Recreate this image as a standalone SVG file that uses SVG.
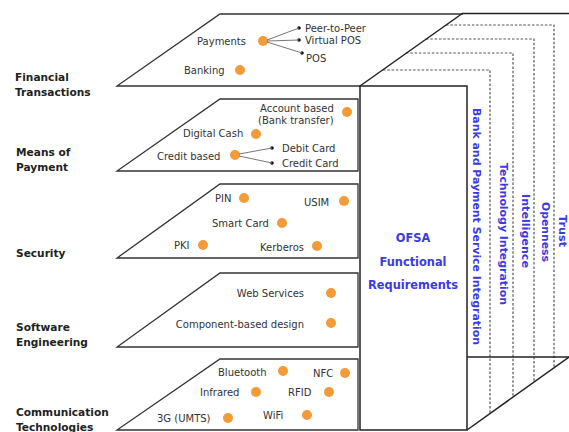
<svg xmlns="http://www.w3.org/2000/svg" width="569" height="432" viewBox="0 0 569 432">
<style>
.layer{fill:#fff;stroke:#333;stroke-width:1.3;stroke-linejoin:miter}
.t{font-family:"DejaVu Sans",Verdana,sans-serif;font-size:10px;fill:#333}
.lbl{font-family:"DejaVu Sans",Verdana,sans-serif;font-size:10.6px;font-weight:bold;fill:#222}
.blue{font-family:"DejaVu Sans",Verdana,sans-serif;font-weight:bold;fill:#3b3be0}
.dot{fill:#f29b38}
.bd{fill:#111}
.edge{fill:none;stroke:#222;stroke-width:1.5}
.dash{fill:none;stroke:#555;stroke-width:1.2;stroke-dasharray:2.5 1.8}
.con{fill:none;stroke:#777;stroke-width:1}
</style>
<rect width="569" height="432" fill="#fff"/>

<g id="labels">
<text class="lbl" x="15" y="81">Financial</text>
<text class="lbl" x="15" y="96">Transactions</text>
<text class="lbl" x="16" y="156">Means of</text>
<text class="lbl" x="16" y="171">Payment</text>
<text class="lbl" x="16" y="257">Security</text>
<text class="lbl" x="16" y="331">Software</text>
<text class="lbl" x="16" y="346">Engineering</text>
<text class="lbl" x="16" y="416">Communication</text>
<text class="lbl" x="16" y="431">Technologies</text>
</g>

<g id="layer-financial">
<path class="layer" d="M463,14 H220 L117,86 H360"/>
<text class="t" x="197" y="45">Payments</text>
<circle class="dot" cx="263" cy="41" r="5"/>
<text class="t" x="184" y="74">Banking</text>
<circle class="dot" cx="240" cy="70" r="5"/>
<circle class="bd" cx="299" cy="28" r="1.8"/>
<circle class="bd" cx="299" cy="40" r="1.8"/>
<circle class="bd" cx="302" cy="53" r="1.8"/>
<text class="t" x="305" y="32">Peer-to-Peer</text>
<text class="t" x="305" y="44">Virtual POS</text>
<text class="t" x="306" y="62">POS</text>
</g>

<g id="cube-back">
<path class="dash" d="M383,70 H490 V413.5"/>
<path class="dash" d="M406,53 H513 V397"/>
<path class="dash" d="M426,39 H534 V382"/>
<path class="dash" d="M446,25 H554 V368"/>
<path class="edge" d="M463,13.5 H569"/>
<path class="edge" d="M360,86 L463,13"/>
<path class="edge" d="M467,357 H569"/>
<path class="edge" d="M467,430 L569,357"/>
<text class="blue" font-size="11" transform="translate(473,108) rotate(90)" textLength="237" lengthAdjust="spacingAndGlyphs">Bank and Payment Service Integration</text>
<text class="blue" font-size="11" transform="translate(500,163) rotate(90)" textLength="142" lengthAdjust="spacingAndGlyphs">Technology Integration</text>
<text class="blue" font-size="11" transform="translate(522,194) rotate(90)" textLength="74" lengthAdjust="spacingAndGlyphs">Intelligence</text>
<text class="blue" font-size="11" transform="translate(542,202) rotate(90)" textLength="60" lengthAdjust="spacingAndGlyphs">Openness</text>
<text class="blue" font-size="11" transform="translate(559,215) rotate(90)" textLength="32" lengthAdjust="spacingAndGlyphs">Trust</text>
</g>

<g id="layer-payment">
<polygon class="layer" points="220,99 358,99 358,171 117,171"/>
<text class="t" x="260" y="112">Account based</text>
<text class="t" x="258" y="124">(Bank transfer)</text>
<circle class="dot" cx="347" cy="112" r="5"/>
<text class="t" x="183" y="137">Digital Cash</text>
<circle class="dot" cx="256" cy="134" r="5"/>
<text class="t" x="157" y="160">Credit based</text>
<circle class="dot" cx="235" cy="155" r="5"/>
<circle class="bd" cx="272" cy="148" r="1.8"/>
<circle class="bd" cx="272" cy="163" r="1.8"/>
<text class="t" x="282" y="152">Debit Card</text>
<text class="t" x="282" y="167">Credit Card</text>
</g>

<g id="layer-security">
<polygon class="layer" points="220,184 358,184 358,258 117,258"/>
<text class="t" x="215" y="202">PIN</text>
<circle class="dot" cx="244" cy="198" r="5"/>
<text class="t" x="304" y="206">USIM</text>
<circle class="dot" cx="344" cy="201" r="5"/>
<text class="t" x="212" y="227">Smart Card</text>
<circle class="dot" cx="282" cy="223" r="5"/>
<text class="t" x="174" y="249">PKI</text>
<circle class="dot" cx="203" cy="245" r="5"/>
<text class="t" x="260" y="251">Kerberos</text>
<circle class="dot" cx="317" cy="246" r="5"/>
</g>

<g id="layer-software">
<polygon class="layer" points="220,273 358,273 358,347 117,347"/>
<text class="t" x="304" y="297" text-anchor="end">Web Services</text>
<circle class="dot" cx="331" cy="293" r="5"/>
<text class="t" x="304" y="328" text-anchor="end">Component-based design</text>
<circle class="dot" cx="331" cy="323" r="5"/>
</g>

<g id="layer-communication">
<polygon class="layer" points="220,359 358,359 358,430 117,430"/>
<text class="t" x="218" y="376">Bluetooth</text>
<circle class="dot" cx="283" cy="371" r="5"/>
<text class="t" x="313" y="377">NFC</text>
<circle class="dot" cx="345" cy="373" r="5"/>
<text class="t" x="200" y="396">Infrared</text>
<circle class="dot" cx="256" cy="392" r="5"/>
<text class="t" x="288" y="396">RFID</text>
<circle class="dot" cx="329" cy="392" r="5"/>
<text class="t" x="157" y="422">3G (UMTS)</text>
<circle class="dot" cx="228" cy="418" r="5"/>
<text class="t" x="263" y="419">WiFi</text>
<circle class="dot" cx="307" cy="415" r="5"/>
</g>

<g id="connectors">
<path class="con" d="M267,40 L299,28 M267,41 L299,40 M267,42 L302,53"/>
<path class="con" d="M239,154 L272,148 M239,156 L272,163"/>
</g>

<g id="ofsa">
<rect class="edge" x="360" y="86" width="107" height="344" fill="#fff"/>
<text class="blue" font-size="11.4" x="413" y="242" text-anchor="middle">OFSA</text>
<text class="blue" font-size="11.4" x="413" y="266" text-anchor="middle">Functional</text>
<text class="blue" font-size="11.4" x="413" y="289" text-anchor="middle">Requirements</text>
</g>
</svg>
